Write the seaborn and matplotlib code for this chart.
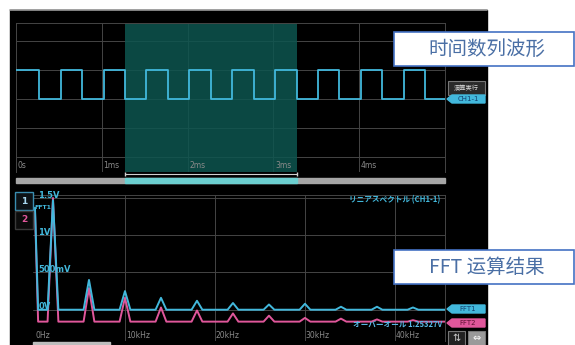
import pandas as pd
import seaborn as sns
import matplotlib.pyplot as plt
from matplotlib.patches import Rectangle, Polygon
from matplotlib.lines import Line2D

# time-domain waveform (CH1-1): edge times in ms and level after each edge
edge_ms = [0.00, 0.27, 0.52, 0.77, 1.02, 1.27, 1.52, 1.77, 2.02, 2.27, 2.52,
           2.77, 3.02, 3.27, 3.52, 3.77, 4.02, 4.27, 4.52, 4.77, 5.00]
wave_v = [1, 0, 1, 0, 1, 0, 1, 0, 1, 0, 1, 0, 1, 0, 1, 0, 1, 0, 1, 0, 0]
window_ms = [1.27, 3.27]
time_ticks = [0, 1, 2, 3, 4]
time_labels = ['0s', '1ms', '2ms', '3ms', '4ms']

# FFT result: odd harmonics of the 2 kHz square wave
harm_khz = [2, 6, 10, 14, 18, 22, 26, 30, 34, 38, 42]
fft1_peak = [1.47, 0.40, 0.25, 0.16, 0.12, 0.09, 0.07, 0.08, 0.04, 0.04, 0.03]
fft2_peak = [1.50, 0.29, 0.16, 0.03, -0.01, -0.05, -0.08, -0.11, -0.12, -0.13, -0.14]
fft1_dc, fft1_base = 1.37, 0.0
fft2_dc, fft2_base = 1.33, -0.16
volt_ticks = [0, 0.5, 1.0, 1.5]
volt_labels = ['0V', '500mV', '1V', '1.5V']
freq_ticks = [0, 10, 20, 30, 40]
freq_labels = ['0Hz', '10kHz', '20kHz', '30kHz', '40kHz']

CYAN = '#42b8dc'
PINK = '#e0579b'
GRID = '#454545'
TEAL = '#0d5650'

sns.set_theme(style='dark')
plt.rcParams['font.family'] = ['DejaVu Sans', 'Noto Sans CJK JP']

W, H = 575, 345


def box(x0, y0, x1, y1):
    # pixel box (top-left origin) -> figure rect
    return [x0 / W, 1 - y1 / H, (x1 - x0) / W, (y1 - y0) / H]


def rect(x0, y0, x1, y1, **kw):
    b = box(x0, y0, x1, y1)
    fig.add_artist(Rectangle((b[0], b[1]), b[2], b[3], transform=fig.transFigure, **kw))


def tag(x0, y0, x1, y1, color, label, tcolor):
    yc = (y0 + y1) / 2
    pts = [(x0, yc), (x0 + 5, y0), (x1, y0), (x1, y1), (x0 + 5, y1)]
    pts = [(x / W, 1 - y / H) for x, y in pts]
    fig.add_artist(Polygon(pts, closed=True, transform=fig.transFigure, color=color))
    fig.text((x0 + x1 + 4) / 2 / W, 1 - yc / H, label, color=tcolor, fontsize=5,
             ha='center', va='center')


fig = plt.figure(figsize=(5.75, 3.45), dpi=100, facecolor='white')

# scope panel
rect(10, 10, 487, 345, color='black', zorder=0)
fig.add_artist(Line2D([10 / W, 487 / W], [1 - 9.5 / H] * 2, color='#9a9a9a', lw=1.2,
                      transform=fig.transFigure))

# --- time domain ---
ax1 = fig.add_axes(box(16, 23, 445, 172))
ax1.set_facecolor('black')
ax1.set_axisbelow(True)
ax1.axvspan(*window_ms, color=TEAL, alpha=0.85, lw=0, zorder=1)
sns.lineplot(x=edge_ms, y=wave_v, drawstyle='steps-post', color=CYAN, lw=1.3,
             ax=ax1, zorder=3)
ax1.set_xlim(0, 5)
ax1.set_ylim(-2.52, 2.62)
ax1.set_xticks([0, 1, 2, 3, 4, 5])
ax1.set_yticks([-2, -1, 0, 1, 2])
ax1.grid(True, color=GRID, lw=0.7)
ax1.tick_params(length=0, labelbottom=False, labelleft=False)
ax1.set_xlabel('')
for s in ax1.spines.values():
    s.set_color(GRID)
    s.set_linewidth(0.7)
ax1.spines['bottom'].set_visible(False)
for t, lab in zip(time_ticks, time_labels):
    ax1.text(t + 0.02, -2.28, lab, color='#8a8a8a', fontsize=5.5, va='center', zorder=4)
ax1.plot(window_ms, [-2.6, -2.6], color='#d0d0d0', lw=0.8, clip_on=False,
         marker='|', ms=3)

# scroll bar
rect(16, 178, 445, 183, color='#a6a6a6')
rect(125, 178, 297, 183, color='#6ccfd0')

# --- FFT ---
rows = []
for name, dc, base, peaks in [('FFT1', fft1_dc, fft1_base, fft1_peak),
                              ('FFT2', fft2_dc, fft2_base, fft2_peak)]:
    rows += [(name, 0.0, dc), (name, 0.35, base)]
    for h, p in zip(harm_khz, peaks):
        rows += [(name, h - 0.6, base), (name, h, p), (name, h + 0.6, base)]
    rows.append((name, 45.6, base))
spec = pd.DataFrame(rows, columns=['trace', 'freq', 'level'])

ax2 = fig.add_axes(box(33, 195, 445, 341))
ax2.set_facecolor('black')
ax2.set_axisbelow(True)
sns.lineplot(data=spec, x='freq', y='level', hue='trace', estimator=None,
             palette={'FFT1': CYAN, 'FFT2': PINK}, hue_order=['FFT2', 'FFT1'],
             lw=1.4, legend=False, ax=ax2, zorder=3)
ax2.set_xlim(-0.22, 45.56)
ax2.set_ylim(-0.42, 1.54)
ax2.set_xticks([10, 20, 30, 40])
ax2.set_yticks(volt_ticks)
ax2.grid(True, color=GRID, lw=0.7)
ax2.tick_params(length=0, labelbottom=False, labelleft=False)
ax2.set_xlabel('')
ax2.set_ylabel('')
for s in ax2.spines.values():
    s.set_color(GRID)
    s.set_linewidth(0.7)
ax2.spines['left'].set_visible(False)
ax2.spines['bottom'].set_visible(False)
for f, lab in zip(freq_ticks, freq_labels):
    ax2.text(f + 0.1, -0.35, lab, color='#8a8a8a', fontsize=5.5, va='center')
for v, lab in zip(volt_ticks, volt_labels):
    ax2.text(0.35, v + 0.04, lab, color=CYAN, fontsize=6, fontweight='bold',
             va='center', zorder=4)
ax2.text(-0.1, 1.37, 'FFT1', color=CYAN, fontsize=4.5, fontweight='bold', va='center')
ax2.text(45.0, 1.48, 'リニアスペクトル (CH1-1)', color=CYAN, fontsize=5.5,
         fontweight='bold', ha='right', va='center',
         family=['Noto Sans CJK JP', 'DejaVu Sans'])
ax2.text(45.2, -0.19, 'オーバーオール 1.25327V', color='#58b8e6', fontsize=5.5,
         fontweight='bold', ha='right', va='center', zorder=5,
         family=['Noto Sans CJK JP', 'DejaVu Sans'])
rect(33, 342, 110, 345, color='#bdbdbd')

# channel boxes
rect(15, 192, 33, 210, facecolor='#0c1216', edgecolor='#3a8db0', lw=1)
rect(15, 211, 33, 229, facecolor='#0c0c0c', edgecolor='#3a3a3a', lw=1)
fig.text(24 / W, 1 - 201 / H, '1', color='#a8d8f0', fontsize=6.5, fontweight='bold',
         ha='center', va='center')
fig.text(24 / W, 1 - 220 / H, '2', color=PINK, fontsize=6.5, fontweight='bold',
         ha='center', va='center')

# right-side markers
rect(448, 81, 485, 95, facecolor='#2a2a2a', edgecolor='#777777', lw=0.8)
fig.text(466 / W, 1 - 88 / H, '演算実行', color='#dddddd', fontsize=4.5,
         ha='center', va='center', family=['Noto Sans CJK JP', 'DejaVu Sans'])
tag(447, 95, 485, 103, CYAN, 'CH1-1', '#12406e')
tag(447, 305, 485, 313, CYAN, 'FFT1', '#12406e')
tag(447, 319, 485, 327, PINK, 'FFT2', '#5a1030')
rect(448, 331, 465, 346, facecolor='#222222', edgecolor='#777777', lw=0.8)
rect(468, 331, 485, 346, facecolor='#9a9a9a', edgecolor='#777777', lw=0.8)
fig.text(456.5 / W, 1 - 338 / H, '⇅', color='#cccccc', fontsize=7, ha='center', va='center')
fig.text(476.5 / W, 1 - 338 / H, '⇔', color='white', fontsize=7, ha='center', va='center')

# callout boxes
for y0, y1, label in [(32, 66, '时间数列波形'), (250, 284, 'FFT 运算结果')]:
    rect(394, y0, 574, y1, facecolor='white', edgecolor='#4472c4', lw=1.2, zorder=5)
    fig.text(487 / W, 1 - (y0 + y1) / 2 / H, label, color='#4a6fa5', fontsize=14,
             ha='center', va='center', zorder=6,
             family=['Noto Sans CJK SC', 'DejaVu Sans'])

fig.savefig('out.png', dpi=100)
